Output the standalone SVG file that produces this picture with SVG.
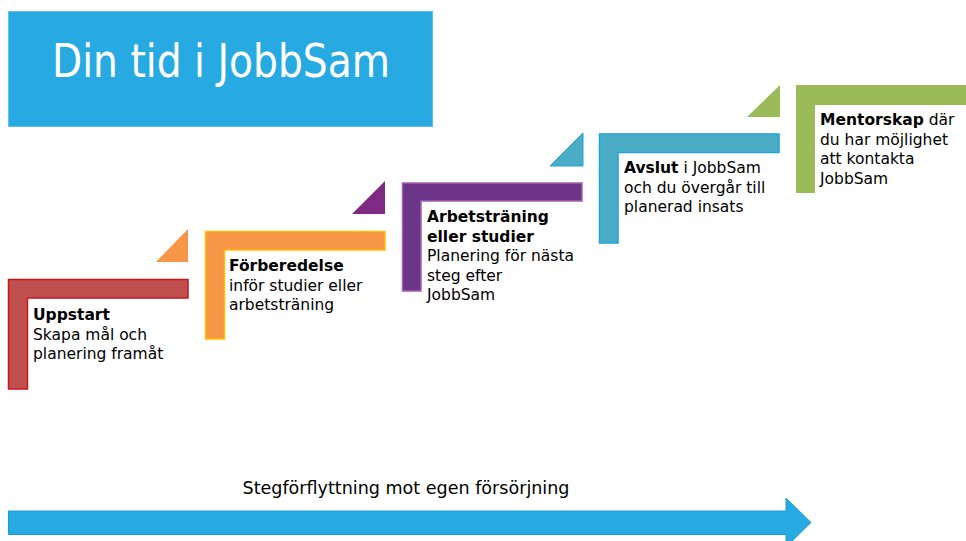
<svg xmlns="http://www.w3.org/2000/svg" width="966" height="541" viewBox="0 0 966 541">
<style>
.t{font-family:"DejaVu Sans",Verdana,sans-serif;font-size:15.5px;fill:#000}
.b{font-weight:bold}
.step{stroke-width:1.5}
</style>
<rect width="966" height="541" fill="#fff"/>
<g id="title">
<rect x="8.5" y="11.5" width="424" height="115" fill="#27aae1" stroke="#5cc1ea" stroke-width="1"/>
<text x="221" y="77" text-anchor="middle" font-family="DejaVu Sans,Verdana,sans-serif" font-size="46" fill="#fff" textLength="338" lengthAdjust="spacingAndGlyphs">Din tid i JobbSam</text>
</g>
<g id="step1">
<path class="step" d="M8.5 279.5H188V298H27.5V389H8.5Z" fill="#c0504d" stroke="#c8141e"/>
<polygon points="156,262 188,229 188,262" fill="#f79646"/>
<text class="t" x="33" y="320"><tspan class="b">Uppstart</tspan><tspan x="33" dy="19.5">Skapa mål och</tspan><tspan x="33" dy="19.5">planering framåt</tspan></text>
</g>
<g id="step2">
<path class="step" d="M205.5 231.5H385V250H224.5V339H205.5Z" fill="#f79646" stroke="#ffc000"/>
<polygon points="352,214 385,181 385,214" fill="#7e2a85"/>
<text class="t" x="229" y="271"><tspan class="b">Förberedelse</tspan><tspan x="229" dy="19.5">inför studier eller</tspan><tspan x="229" dy="19.5">arbetsträning</tspan></text>
</g>
<g id="step3">
<path class="step" d="M402.5 183H582V201H421V291H402.5Z" fill="#6c3589" stroke="#a65fb0"/>
<polygon points="550,166 583,133 583,166" fill="#4bacc6" stroke="#1fa2dc" stroke-width="1"/>
<text class="t" x="427" y="222"><tspan class="b">Arbetsträning</tspan><tspan class="b" x="427" dy="19.5">eller studier</tspan><tspan x="427" dy="19.5">Planering för nästa</tspan><tspan x="427" dy="19.5">steg efter</tspan><tspan x="427" dy="19.5">JobbSam</tspan></text>
</g>
<g id="step4">
<path class="step" d="M599.5 134H779V152.5H618V243H599.5Z" fill="#4bacc6" stroke="#1fa2dc"/>
<polygon points="747,117 780,85 780,117" fill="#9bbb59"/>
<text class="t" x="624" y="173"><tspan class="b">Avslut</tspan> i JobbSam<tspan x="624" dy="19.5">och du övergår till</tspan><tspan x="624" dy="19.5">planerad insats</tspan></text>
</g>
<g id="step5">
<path d="M796 85H966V105H815V193H796Z" fill="#9bbb59"/>
<text class="t" x="820" y="125"><tspan class="b">Mentorskap</tspan> där<tspan x="820" dy="19.5">du har möjlighet</tspan><tspan x="820" dy="19.5">att kontakta</tspan><tspan x="820" dy="19.5">JobbSam</tspan></text>
</g>
<g id="connectors">
<path d="M8.5 511H786V498L811 522.5L786 547V534.5H8.5Z" fill="#27aae1" stroke="#1e9bd6" stroke-width="1"/>
<text x="406" y="494" text-anchor="middle" font-family="DejaVu Sans Condensed,DejaVu Sans,sans-serif" font-size="18" fill="#000" textLength="327" lengthAdjust="spacingAndGlyphs">Stegförflyttning mot egen försörjning</text>
</g>
</svg>
